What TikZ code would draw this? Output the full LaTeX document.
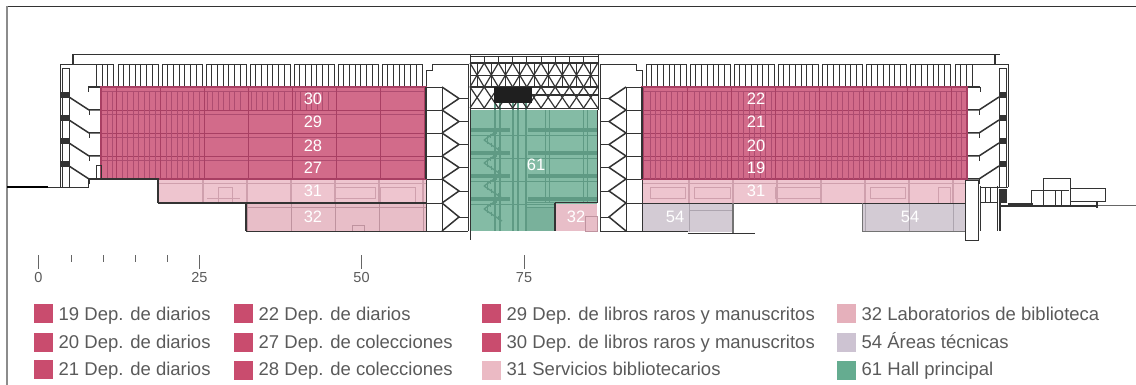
\documentclass[tikz,border=0pt]{standalone}
\usepackage{fontspec}
\setmainfont{Liberation Sans}
\definecolor{deptfill}{HTML}{D26B8A}
\definecolor{deptline}{HTML}{A83F63}
\definecolor{deptbar}{HTML}{AE4C70}
\definecolor{servfill}{HTML}{EEC5CF}
\definecolor{servline}{HTML}{CFA0AD}
\definecolor{labfill}{HTML}{E8BEC8}
\definecolor{labline}{HTML}{BF939F}
\definecolor{techfill}{HTML}{D3CBD4}
\definecolor{techline}{HTML}{ADA5AF}
\definecolor{hallfill}{HTML}{84BBA5}
\definecolor{hallline}{HTML}{5F9A84}
\definecolor{wallcol}{HTML}{333333}
\definecolor{inkcol}{HTML}{5A5A5A}
\tikzset{
  wall/.style={draw=wallcol, line width=0.9pt},
  heavy/.style={draw=wallcol, line width=1.5pt},
  grid/.style={draw=wallcol, line width=0.7pt},
  thinbar/.style={draw=deptbar, line width=0.75pt},
  roomlabel/.style={text=white, font=\fontsize{16.5}{18}\selectfont, inner sep=0pt},
  scalelabel/.style={text=inkcol, font=\fontsize{14.5}{17}\selectfont, inner sep=0pt},
  legendtext/.style={text=inkcol, font=\fontsize{18.5}{20}\selectfont, inner sep=0pt, anchor=base west},
}
% one wing of the section, drawn for the left side and mirrored for the right
\newcommand{\wingsection}{
  % stair tower
  \draw[wall] (96,64) -- (60,64) -- (60,187);
  \draw[wall] (62,68) rectangle (69,187);
  \foreach \y in {97,120,143,166} {
    \fill[wallcol] (61,\y-5) rectangle (69,\y+1);
    \draw[heavy] (69,\y) -- (89,\y+13) -- (101,\y+13);
    \draw[wall] (89,\y+13) -- (89,\y+18);
  }
  \draw[heavy] (88,87) -- (101,87);
  \draw[wall] (88,87) -- (88,92);
  % roof railing
  \draw[wall] (96,64) rectangle (113,87);
  \foreach \x in {102,107.5} \draw[grid] (\x,64) -- (\x,87);
  \foreach \k in {0,...,6} {
    \draw[wall] (118+44*\k,64) rectangle (158+44*\k,87);
    \foreach \b in {1,...,6} \draw[grid] (118+44*\k+5.7*\b,64) -- (118+44*\k+5.7*\b,87);
  }
  \draw[heavy] (96,87) -- (426,87);
  % core beside the hall
  \draw[wall] (426,87) -- (426,70) -- (432,70) -- (432,64) -- (468,64) -- (468,231);
  \foreach \y/\n in {87/110,110/133,133/156,156/179,179/203,203/231} {
    \pgfmathsetmacro{\m}{(\y+\n)/2}
    \draw[wall] (426,\y) rectangle (442,\n);
    \draw[heavy] (442,\y) -- (459,\m) -- (442,\n);
    \draw[wall] (459,\m) -- (468,\m);
  }
  \draw[wall] (426,231) -- (468,231);
  % department floors
  \fill[deptfill] (101,87) rectangle (426,179);
  \foreach \y in {87,110,133,156} {
    \draw[deptline, line width=1.1pt] (101,\y+0.5) -- (426,\y+0.5);
    \draw[thinbar] (101,\y+4.5) -- (426,\y+4.5);
    \foreach \k in {0,...,7} \draw[deptline, line width=1.5pt] (116.5+44*\k,\y) -- (116.5+44*\k,\y+23);
  }
  \foreach \x in {107,112,122,127.5,133,138.5,144,149.5,155,166,171.5,177,182.5,188,193.5,199} {
    \draw[thinbar] (\x,91) -- (\x,179);
  }
  \draw[deptline, line width=1.1pt] (101,87) rectangle (426,179);
  \draw[heavy] (426,87) -- (426,179);
}
\begin{document}
\begin{tikzpicture}[x=1pt, y=-1pt]
  \useasboundingbox (0,0) rectangle (1136,385);

  % Frame
  \draw[draw=black!80, line width=0.9pt] (6,6) -- (1136,6);
  \draw[draw=black!45, line width=1.6pt] (7,6) -- (7,385);

  % Wings
  \wingsection
  \begin{scope}[xshift=1068pt, xscale=-1]
    \wingsection
  \end{scope}

  % Bars that only the right wing has
  \foreach \x in {650,655,660,666,671,677,682,694,699,705,710,716,721,727,738,743,749,754,760,765,771,782,787,793,798,804,809,815,826,831,837,842,848,853,859} {
    \draw[thinbar] (\x,91) -- (\x,179);
  }
  \foreach \x in {207,212,218,223,229,234,240} \draw[thinbar] (\x,91) -- (\x,110);
  \foreach \x in {251,256,262,267,273,278,284,295,300,306,311,317,322,328} \draw[thinbar] (\x,91) -- (\x,110);

  % Roof line
  \draw[wall] (72,54) -- (1000,54);
  \draw[heavy] (73,54) -- (73,64);
  \draw[heavy] (995,54) -- (995,64);

  % Ground on the left
  \draw[draw=black, line width=1.4pt] (7,187) -- (48,187);
  \draw[wall] (48,187) -- (88,187) -- (88,179);
  \draw[heavy] (89,179) -- (158,179) -- (158,203);
  \draw[wall] (96,179) rectangle (101,165);

  % Left services and laboratories
  \fill[servfill] (159,180) rectangle (426,203);
  \fill[labfill] (247,204) rectangle (426,231);
  \foreach \x in {203,247,291,335,379,423} \draw[servline, line width=1.3pt] (\x,180) -- (\x,203);
  \foreach \x in {247,291,335,379,423} \draw[labline, line width=1pt] (\x,204) -- (\x,231);
  \draw[servline, line width=0.9pt] (159,183) -- (426,183) (207,198) -- (240,198) (218,187) rectangle (232,203) (335,187) rectangle (375,198) (380,187) rectangle (415,203);
  \draw[labline, line width=0.9pt] (247,207) -- (426,207) (352,225) rectangle (364,231);
  \draw[heavy] (158,203) -- (426,203);
  \draw[heavy] (246,203) -- (246,231);
  \draw[wall] (246,231) -- (426,231);

  % Right services and technical areas
  \fill[servfill] (643,180) rectangle (965,203);
  \fill[techfill] (643,204) rectangle (733,232);
  \fill[techfill] (862,204) rectangle (965,231);
  \foreach \x in {689,733,777,821,865,909,953} \draw[servline, line width=1.3pt] (\x,180) -- (\x,203);
  \draw[servline, line width=0.9pt] (643,183) -- (965,183) (650,187) rectangle (685,198) (694,187) rectangle (730,198) (775,187) rectangle (820,198) (870,187) rectangle (905,198) (938,187) rectangle (950,203);
  \foreach \x in {689,865,909,953} \draw[techline, line width=1pt] (\x,204) -- (\x,232);
  \draw[techline, line width=0.8pt] (690,210) -- (732,210);
  \draw[wall] (643,203) -- (965,203);
  \draw[draw=black!55, line width=1.3pt] (733,203) -- (733,233);
  \draw[wall] (688,233) -- (755,233);
  \draw[wall] (643,231) -- (688,231);
  \draw[draw=black!55, line width=0.9pt] (862,203) -- (862,231) -- (965,231);

  % Right end and ground
  \draw[wall] (965,180) rectangle (978,240);
  \draw[wall] (980,186) -- (980,231) (997,186) -- (997,231) (980,202) -- (997,202) (980,187) -- (1008,187);
  \draw[wall] (985,187) -- (985,202) (990,187) -- (990,202);
  \fill[wallcol] (999,189) rectangle (1007,203);
  \draw[heavy] (1000,203) -- (1000,231);
  \draw[heavy] (1000,206) -- (1098,206);
  \fill[wallcol] (1008,203) rectangle (1033,206);
  \draw[wall] (1031,206) -- (1031,190) -- (1069,190);
  \draw[wall] (1043,206) -- (1043,178) -- (1070,178) -- (1070,206);
  \draw[wall] (1070,188) -- (1105,188) -- (1105,201) -- (1070,201);
  \draw[wall] (1055,191) -- (1055,206) (1061,191) -- (1061,206);
  \draw[heavy] (1097,201) -- (1097,208);
  \draw[draw=black!60, line width=0.6pt] (1098,205) -- (1136,205);

  % Hall
  \fill[hallfill] (471,110) rectangle (597,231);
  \foreach \x in {495,500,513,518,526} \draw[hallline, line width=1.3pt] (\x,103) -- (\x,231);
  \foreach \x in {545,549,583,587} \draw[hallline, line width=1pt] (\x,110) -- (\x,203);
  \foreach \y in {128,151,174,197} {
    \fill[hallline] (471,\y) rectangle (510,\y+4);
    \fill[hallline] (528,\y) rectangle (597,\y+4);
    \draw[hallline, line width=0.8pt] (471,\y+7) -- (597,\y+7);
  }
  % stairs
  \foreach \y in {128,151,174,197} {
    \draw[hallline, line width=1.3pt] (500,\y+1) -- (484,\y+12);
    \draw[hallline, line width=1.3pt] (484,\y+12) -- (502,\y+24);
    \foreach \s in {1,...,4} \draw[hallline, line width=0.7pt] (484+3*\s,\y+12-2*\s-2) -- (484+3*\s,\y+12-2*\s+2);
    \foreach \s in {1,...,4} \draw[hallline, line width=0.7pt] (484+3.5*\s,\y+12+2.3*\s-2) -- (484+3.5*\s,\y+12+2.3*\s+2);
  }
  \draw[hallline, line width=1pt] (527,203) -- (555,203) (527,208) -- (555,208);
  \fill[hallline!30!hallfill] (527,208) rectangle (554,231);

  % Laboratory in the hall
  \fill[labfill] (556,204) rectangle (597,231);
  \draw[labline, line width=0.8pt] (585,216) rectangle (597,231);
  \draw[wall] (555,202.5) -- (598,202.5);
  \draw[heavy] (555,203) -- (555,231);
  \draw[wall] (597,110) -- (597,203);

  % Roof truss
  \draw[wall] (470,56) rectangle (598,62);
  \foreach \k in {1,...,8} \draw[grid] (470+14.2*\k,56) -- (470+14.2*\k,62);
  \draw[heavy] (470,63) -- (598,63);
  \draw[heavy] (470,87) -- (598,87);
  \draw[heavy] (470,108.5) -- (598,108.5);
  \draw[grid] (470,75) -- (598,75);
  \foreach \k in {0,...,8} {
    \draw[heavy, line width=1.2pt] (470+14.2*\k,63) -- (484.2+14.2*\k,87);
    \draw[heavy, line width=1.2pt] (484.2+14.2*\k,63) -- (470+14.2*\k,87);
    \draw[grid] (477.1+14.2*\k,63) -- (477.1+14.2*\k,87);
    \draw[heavy, line width=1.2pt] (470+14.2*\k,87) -- (484.2+14.2*\k,108);
    \draw[heavy, line width=1.2pt] (484.2+14.2*\k,87) -- (470+14.2*\k,108);
  }
  \draw[heavy] (532,95) -- (598,95);
  \fill[black!88] (494,87) rectangle (532,103);
  \draw[wall] (470,54) -- (470,240);
  \draw[wall] (598,54) -- (598,110);
  \draw[wall] (600,64) -- (600,231);

  % Room numbers
  \node[roomlabel] (dept30) at (313,99) {30};
  \node[roomlabel] (dept29) at (313,122) {29};
  \node[roomlabel] (dept28) at (313,146) {28};
  \node[roomlabel] (dept27) at (313,168) {27};
  \node[roomlabel] (serv31l) at (313,191) {31};
  \node[roomlabel] (lab32l) at (313,217) {32};
  \node[roomlabel] (dept22) at (756,99) {22};
  \node[roomlabel] (dept21) at (756,122) {21};
  \node[roomlabel] (dept20) at (756,146) {20};
  \node[roomlabel] (dept19) at (756,168) {19};
  \node[roomlabel] (serv31r) at (756,191) {31};
  \node[roomlabel] (tech54l) at (675,217) {54};
  \node[roomlabel] (tech54r) at (910,217) {54};
  \node[roomlabel] (hall61) at (536,165) {61};
  \node[roomlabel] (lab32c) at (576,217) {32};

  % Scale
  \foreach \x/\t in {38.5/0,199.5/25,361.5/50,524/75} {
    \draw[draw=black!60, line width=0.8pt] (\x,255) -- (\x,269);
    \node[scalelabel] (scale\t) at (\x,278) {\t};
  }
  \foreach \x in {71,103,135,167.5} \draw[draw=black!60, line width=0.8pt] (\x,255) -- (\x,262);

  % Legend
  \foreach \n/\x/\y/\b/\c/\t in {
    19/34/304/320/C94C6E/Dep. de diarios,
    20/34/333/348/C94C6E/Dep. de diarios,
    21/34/360/375/C94C6E/Dep. de diarios,
    22/234/304/320/C94C6E/Dep. de diarios,
    27/234/333/348/C94C6E/Dep. de colecciones,
    28/234/361/375/C94C6E/Dep. de colecciones,
    29/482/304/320/C94C6E/Dep. de libros raros y manuscritos,
    30/482/333/348/C94C6E/Dep. de libros raros y manuscritos,
    31/482/361/375/EBBAC4/Servicios bibliotecarios,
    32/837/304/320/E5B0BB/Laboratorios de biblioteca,
    54/837/333/348/CDC3D2/Áreas técnicas,
    61/837/361/375/65AC90/Hall principal} {
    \definecolor{swatchcol}{HTML}{\c}
    \fill[swatchcol] (\x,\y) rectangle (\x+19,\y+19);
    \node[legendtext] (legend\n) at (\x+24.5,\b) {\n\ \t};
  }
\end{tikzpicture}
\end{document}
